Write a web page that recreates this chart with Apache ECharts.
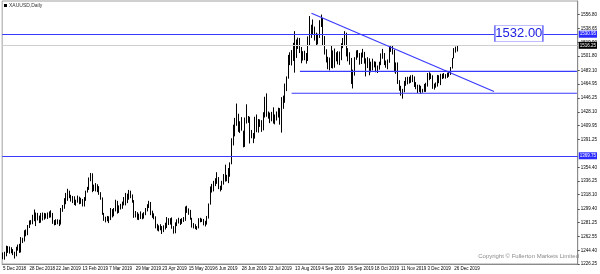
<!DOCTYPE html>
<html>
<head>
<meta charset="utf-8">
<script src="https://cdn.jsdelivr.net/npm/echarts@6/dist/echarts.min.js"></script>
<style>html,body{margin:0;padding:0;background:#fff}#c{width:600px;height:274px}</style>
</head>
<body>
<div id="c"></div>
<script>
// Date labels shown on the time axis (every 16th daily bar)
const tickLabels = ['5 Dec 2018','28 Dec 2018','22 Jan 2019','13 Feb 2019','7 Mar 2019','29 Mar 2019','23 Apr 2019','15 May 2019','6 Jun 2019','28 Jun 2019','22 Jul 2019','13 Aug 2019','4 Sep 2019','26 Sep 2019','18 Oct 2019','11 Nov 2019','3 Dec 2019','26 Dec 2019'];
// Price scale labels
const priceTicks = [1556.80,1538.65,1519.90,1501.80,1483.10,1464.95,1446.25,1428.10,1409.95,1391.25,1354.40,1336.25,1318.10,1299.40,1281.25,1262.55,1244.40,1226.25];
// Daily XAUUSD candles: [open, close, low, high]
const candles = [
[1237.0,1237.5,1232.5,1241.5],[1237.5,1238.0,1232.0,1242.5],[1238.0,1248.0,1236.5,1250.5],[1248.0,1244.0,1241.0,1250.0],[1244.0,1244.5,1240.0,1249.5],
[1244.5,1243.5,1240.5,1248.5],[1243.5,1241.0,1238.0,1246.0],[1241.0,1238.5,1233.5,1242.5],[1238.5,1246.0,1236.5,1249.0],[1246.0,1249.0,1244.0,1252.0],
[1249.0,1243.5,1241.0,1253.0],[1243.5,1258.5,1241.5,1262.0],[1258.5,1257.0,1254.0,1261.0],[1257.0,1269.0,1256.0,1271.0],[1269.0,1267.0,1263.0,1272.0],
[1267.0,1276.0,1264.5,1278.0],[1276.0,1280.5,1274.0,1284.0],[1280.5,1282.0,1278.5,1284.5],[1282.0,1284.5,1279.0,1291.5],[1284.5,1294.0,1283.0,1298.5],
[1294.0,1285.0,1276.5,1294.5],[1285.0,1289.5,1284.0,1294.0],[1289.5,1284.5,1280.5,1290.5],[1284.5,1292.5,1281.0,1294.0],[1292.5,1287.5,1284.0,1294.5],
[1287.5,1290.0,1285.0,1294.0],[1290.0,1291.5,1286.5,1293.5],[1291.5,1288.5,1286.0,1294.5],[1288.5,1294.0,1287.5,1296.0],[1294.0,1292.5,1288.0,1297.5],
[1292.5,1282.0,1279.5,1294.0],[1282.0,1280.0,1277.5,1284.5],[1280.0,1283.5,1278.0,1285.5],[1283.5,1282.0,1279.0,1285.5],[1282.0,1280.0,1276.5,1285.0],
[1280.0,1298.0,1278.5,1300.5],[1298.0,1302.5,1295.5,1304.5],[1302.5,1312.0,1299.5,1313.5],[1312.0,1319.0,1305.5,1320.5],[1319.0,1321.5,1310.0,1326.0],
[1321.5,1317.0,1313.5,1323.5],[1317.0,1311.5,1309.0,1318.0],[1311.5,1314.5,1307.0,1316.5],[1314.5,1306.5,1304.5,1316.0],[1306.5,1309.5,1303.5,1311.5],
[1309.5,1315.0,1307.5,1317.0],[1315.0,1308.0,1305.5,1315.5],[1308.0,1311.5,1306.0,1314.0],[1311.5,1306.5,1302.5,1312.5],[1306.5,1314.0,1302.5,1315.0],
[1314.0,1322.0,1310.0,1323.5],[1322.0,1327.5,1321.0,1328.5],[1327.5,1340.0,1324.5,1341.0],[1340.0,1345.0,1336.0,1347.0],[1345.0,1325.5,1321.5,1346.5],
[1325.5,1328.5,1323.0,1331.5],[1328.5,1327.5,1322.5,1333.5],[1327.5,1329.0,1321.5,1332.0],[1329.0,1320.5,1318.0,1329.5],[1320.5,1313.0,1311.5,1321.5],
[1313.0,1293.0,1291.5,1314.5],[1293.0,1286.5,1283.5,1294.0],[1286.5,1287.5,1281.5,1289.0],[1287.5,1286.0,1283.0,1290.0],[1286.0,1285.5,1280.5,1289.5],
[1285.5,1298.5,1284.5,1300.5],[1298.5,1291.0,1288.0,1299.0],[1291.0,1298.5,1289.5,1300.5],[1298.5,1309.0,1296.0,1311.5],[1309.0,1295.0,1293.0,1310.0],
[1295.0,1302.5,1294.0,1304.0],[1302.5,1301.5,1298.5,1306.0],[1301.5,1305.5,1299.5,1309.0],[1305.5,1313.0,1304.0,1315.0],[1313.0,1310.5,1304.0,1320.5],
[1310.5,1313.0,1307.0,1319.5],[1313.0,1322.0,1311.5,1324.5],[1322.0,1315.5,1313.5,1323.5],[1315.5,1310.0,1307.5,1318.5],[1310.0,1291.0,1287.5,1311.0],
[1291.0,1292.5,1288.0,1296.5],[1292.5,1286.5,1285.0,1295.0],[1286.5,1291.5,1284.5,1293.0],[1291.5,1291.0,1286.0,1296.0],[1291.0,1290.0,1285.5,1293.5],
[1290.0,1292.0,1286.5,1295.0],[1292.0,1298.5,1291.0,1300.5],[1298.5,1303.5,1296.0,1305.5],[1303.5,1307.5,1300.5,1310.0],[1307.5,1292.5,1291.0,1308.5],
[1292.5,1291.0,1287.5,1297.0],[1291.0,1288.5,1285.5,1293.5],[1288.5,1275.5,1273.5,1289.5],[1275.5,1273.5,1270.5,1279.5],[1273.5,1275.5,1269.5,1277.5],
[1275.5,1273.5,1271.0,1279.0],[1273.5,1269.5,1266.0,1276.5],[1269.5,1275.5,1268.5,1277.5],[1275.5,1276.5,1272.0,1281.0],[1276.5,1286.0,1274.0,1288.5],
[1286.0,1279.5,1278.0,1287.0],[1279.5,1283.5,1278.5,1287.0],[1283.5,1274.5,1273.0,1288.0],[1274.5,1270.5,1266.5,1276.5],[1270.5,1279.5,1267.0,1281.5],
[1279.5,1282.0,1276.5,1285.5],[1282.0,1284.5,1280.0,1287.5],[1284.5,1281.0,1278.0,1286.0],[1281.0,1284.5,1279.5,1287.0],[1284.5,1285.5,1282.0,1288.5],
[1285.5,1301.0,1283.5,1302.5],[1301.0,1296.0,1294.0,1303.5],[1296.0,1297.0,1291.5,1300.0],[1297.0,1286.5,1285.0,1298.0],[1286.5,1277.5,1274.5,1287.5],
[1277.5,1277.0,1273.5,1280.5],[1277.0,1273.5,1272.5,1279.0],[1273.5,1274.5,1271.5,1276.5],[1274.5,1284.5,1273.5,1287.0],[1284.5,1284.5,1281.5,1287.5],
[1284.5,1284.0,1282.0,1286.5],[1284.0,1279.0,1277.5,1286.0],[1279.0,1280.5,1276.0,1283.5],[1280.5,1288.5,1278.5,1290.0],[1288.5,1305.5,1286.5,1306.5],
[1305.5,1327.5,1305.0,1329.0],[1327.5,1325.5,1321.0,1332.5],[1325.5,1334.0,1322.5,1336.5],[1334.0,1337.0,1329.5,1340.0],[1337.0,1341.0,1332.5,1348.0],
[1341.0,1327.5,1325.5,1341.5],[1327.5,1327.5,1322.5,1330.0],[1327.5,1334.0,1324.5,1336.5],[1334.0,1342.5,1331.5,1345.5],[1342.5,1341.0,1335.5,1358.0],
[1341.0,1340.0,1336.0,1344.5],[1340.0,1346.5,1333.5,1353.5],[1346.5,1360.5,1342.0,1361.0],[1360.5,1388.0,1358.5,1393.0],[1388.0,1400.0,1383.5,1411.0],
[1400.0,1418.5,1395.5,1420.0],[1418.5,1423.0,1409.5,1439.0],[1423.0,1408.0,1401.5,1425.5],[1408.0,1411.5,1400.0,1415.5],[1411.5,1409.5,1403.0,1421.0],
[1399.0,1384.5,1381.0,1403.0],[1384.5,1419.5,1381.5,1420.5],[1419.5,1418.5,1412.5,1438.0],[1418.5,1420.5,1413.5,1422.5],[1420.5,1399.5,1386.0,1421.5],
[1399.5,1396.5,1393.0,1404.0],[1396.5,1397.5,1386.5,1400.0],[1397.5,1420.0,1392.5,1421.5],[1420.0,1403.5,1401.0,1424.5],[1403.5,1416.0,1400.5,1418.5],
[1416.0,1414.0,1408.0,1418.0],[1414.0,1406.0,1401.5,1417.0],[1406.0,1426.5,1403.5,1427.5],[1426.5,1446.0,1420.5,1448.0],[1446.0,1425.5,1421.5,1452.5],
[1425.5,1425.0,1419.0,1428.5],[1425.0,1418.0,1413.0,1427.0],[1418.0,1425.0,1415.5,1428.0],[1425.0,1414.5,1412.5,1434.0],[1414.5,1418.5,1411.5,1424.5],
[1418.5,1426.0,1416.5,1428.5],[1426.0,1430.5,1420.5,1433.5],[1430.5,1413.5,1411.0,1433.0],[1413.5,1445.0,1400.5,1447.5],[1445.0,1440.5,1432.0,1449.5],
[1440.5,1464.0,1440.0,1465.5],[1464.0,1474.5,1455.5,1475.0],[1474.5,1501.5,1472.0,1503.5],[1501.5,1500.0,1490.0,1507.0],[1500.0,1497.0,1489.5,1510.0],
[1497.0,1512.0,1495.5,1519.5],[1512.0,1502.0,1480.0,1535.0],[1502.0,1516.5,1499.5,1524.0],[1516.5,1523.5,1511.5,1526.5],[1523.5,1513.5,1506.0,1526.0],
[1513.5,1496.5,1492.5,1514.0],[1496.5,1506.5,1496.0,1508.5],[1506.5,1502.5,1496.5,1509.0],[1502.5,1498.0,1492.0,1506.0],[1498.0,1527.0,1495.5,1528.0],
[1527.0,1526.5,1516.0,1555.0],[1526.5,1542.5,1526.0,1543.5],[1542.5,1538.5,1530.5,1550.5],[1538.5,1527.0,1522.5,1541.0],[1527.0,1520.0,1516.5,1533.0],
[1520.0,1529.5,1517.5,1531.5],[1529.5,1547.0,1526.0,1549.5],[1547.0,1551.0,1540.5,1557.0],[1551.0,1519.5,1515.5,1552.5],[1519.5,1507.0,1504.0,1528.5],
[1507.0,1498.5,1493.5,1511.0],[1498.5,1486.0,1484.5,1501.0],[1486.0,1497.5,1483.0,1500.0],[1497.5,1509.0,1486.0,1516.5],[1509.0,1488.5,1485.5,1509.5],
[1488.5,1499.0,1486.5,1512.0],[1499.0,1502.5,1495.0,1507.0],[1502.5,1494.0,1491.0,1508.5],[1494.0,1499.0,1490.0,1508.0],[1499.0,1517.0,1496.5,1519.0],
[1517.0,1522.5,1512.5,1526.0],[1522.5,1532.0,1516.5,1535.0],[1532.0,1504.5,1501.5,1533.0],[1504.5,1505.5,1495.0,1512.5],[1505.5,1498.0,1490.5,1507.0],
[1498.0,1472.5,1465.0,1499.5],[1472.5,1479.0,1459.0,1484.0],[1479.0,1498.5,1476.0,1500.5],[1498.5,1506.5,1497.0,1509.5],[1506.5,1504.5,1500.0,1510.0],
[1504.5,1493.5,1490.5,1506.0],[1493.5,1505.0,1491.5,1506.5],[1505.0,1505.5,1500.0,1511.5],[1505.5,1495.0,1492.0,1507.5],[1495.0,1489.0,1475.0,1499.0],
[1489.0,1498.0,1486.0,1500.5],[1498.0,1481.5,1476.5,1499.0],[1481.5,1490.0,1480.5,1494.5],[1490.0,1492.5,1483.0,1498.5],[1492.5,1490.0,1487.0,1495.0],
[1490.0,1484.0,1480.5,1494.5],[1484.0,1487.0,1479.5,1489.5],[1487.0,1492.0,1484.0,1494.5],[1492.0,1504.0,1490.0,1505.5],[1504.0,1505.0,1498.5,1511.5],
[1505.0,1492.5,1490.0,1506.0],[1492.5,1487.5,1486.5,1496.0],[1487.5,1495.5,1484.5,1497.5],[1495.5,1513.0,1493.0,1515.0],[1513.0,1514.5,1507.5,1516.5],
[1514.5,1509.5,1504.0,1515.5],[1509.5,1484.0,1480.5,1510.5],[1484.0,1489.5,1478.5,1493.5],[1489.5,1467.5,1465.0,1493.5],[1467.5,1459.0,1456.0,1470.0],
[1459.0,1456.5,1449.5,1462.5],[1456.5,1456.0,1445.5,1458.5],[1456.0,1463.5,1454.0,1469.0],[1463.5,1472.5,1462.5,1474.0],[1472.5,1468.0,1464.5,1474.5],
[1468.0,1472.0,1465.5,1474.5],[1472.0,1471.5,1466.5,1476.5],[1471.5,1473.5,1467.5,1477.0],[1473.5,1464.5,1461.0,1475.0],[1464.5,1462.0,1458.0,1467.5],
[1462.0,1456.5,1453.0,1464.0],[1456.5,1462.0,1454.5,1464.0],[1462.0,1455.0,1452.0,1462.5],[1455.0,1456.0,1453.5,1458.5],[1456.0,1463.5,1454.5,1465.0],
[1463.5,1463.0,1454.5,1466.5],[1463.0,1478.0,1461.5,1479.5],[1478.0,1474.5,1470.0,1480.5],[1474.5,1474.0,1471.5,1479.0],[1474.0,1460.0,1458.5,1476.5],
[1460.0,1462.5,1457.5,1465.5],[1462.5,1465.0,1460.0,1467.0],[1465.0,1475.5,1461.5,1477.0],[1475.5,1470.5,1466.0,1476.5],[1470.5,1476.0,1463.5,1478.5],
[1476.0,1476.0,1471.5,1478.5],[1476.0,1475.5,1472.5,1479.5],[1475.5,1475.0,1472.0,1478.0],[1475.0,1478.5,1473.0,1480.0],[1478.5,1478.5,1474.5,1481.0],
[1478.5,1486.5,1477.0,1487.5],[1486.5,1499.0,1485.5,1499.5],[1499.0,1511.0,1499.0,1512.5],[1511.0,1510.5,1506.5,1514.5],[1510.5,1516.25,1508.0,1516.5]
];
// Annotation levels
const fullLevels = [1530.95, 1369.75];
const lastPrice = 1516.25;
const supportLines = [[179, 1481.6], [174, 1452.7]]; // [start bar, price]
const trendStart = [186, 1558.8];
const trendEnd = [296, 1454.9];
const noteBar = 311, noteValue = 1532.00;
const totalSlots = 347;

const cats = [];
for (let i = 0; i < totalSlots; i++) cats.push(String(i));
const showIdx = (i) => i % 16 === 0 && (i / 16) < tickLabels.length;

const chart = echarts.init(document.getElementById('c'), null, {renderer: 'canvas'});
const BLUE = '#3a3aff';
const blue = () => ({color: BLUE, width: 1.2, type: 'solid', opacity: 1});
const markData = [];
fullLevels.forEach(v => markData.push({yAxis: v, lineStyle: blue(),
  label: {show: true, position: 'end', distance: 1, formatter: v.toFixed(2), backgroundColor: '#2a2aff', color: '#fff', fontSize: 4.5, fontFamily: 'Liberation Sans', padding: [1, 1]}}));
markData.push({yAxis: lastPrice, lineStyle: {color: '#cfcfcf', width: 1, type: 'solid'},
  label: {show: true, position: 'end', distance: 1, formatter: lastPrice.toFixed(2), backgroundColor: '#000', color: '#fff', fontSize: 4.5, fontFamily: 'Liberation Sans', padding: [1, 1]}});
markData.push([
  {coord: trendStart, lineStyle: blue(), label: {show: false}},
  {coord: trendEnd, lineStyle: blue()}
]);

const supportSeries = supportLines.map(s => ({
  type: 'line', data: [[s[0], s[1]], [totalSlots - 1, s[1]]],
  symbol: 'none', silent: true, z: 3,
  lineStyle: {color: BLUE, width: 1.2, type: 'solid'},
  itemStyle: {color: BLUE}
}));

chart.setOption({
  animation: false,
  backgroundColor: '#fff',
  grid: {left: 2, right: 18, top: 1, bottom: 10, show: true, borderColor: '#a0a0a0', borderWidth: 1},
  xAxis: {
    type: 'category', data: cats, boundaryGap: true,
    axisLine: {lineStyle: {color: '#8a8a8a'}},
    axisTick: {interval: (i) => showIdx(i), alignWithLabel: true, length: 2, lineStyle: {color: '#555'}},
    axisLabel: {interval: (i) => showIdx(i), showMinLabel: true, formatter: (v, i) => tickLabels[i / 16] || '', align: 'left',
      fontSize: 4.5, color: '#000', margin: 2, fontFamily: 'Liberation Sans'},
    splitLine: {show: false}
  },
  yAxis: {
    type: 'value', position: 'right', min: 1226.25, max: 1575, scale: true,
    axisLine: {show: true, lineStyle: {color: '#8a8a8a'}},
    axisTick: {show: true, customValues: priceTicks, length: 2, lineStyle: {color: '#555'}},
    axisLabel: {customValues: priceTicks, formatter: (v) => v.toFixed(2), fontSize: 4.5, color: '#000', margin: 3, fontFamily: 'Liberation Sans'},
    splitLine: {show: false}
  },
  graphic: [
    {type: 'rect', left: 4, top: 4, shape: {width: 3, height: 3}, style: {fill: '#000'}},
    {type: 'text', left: 9, top: 3, style: {text: 'XAUUSD,Daily', fontSize: 5, fill: '#333', fontFamily: 'Liberation Sans'}},
    {type: 'text', right: 21, top: 253, style: {text: 'Copyright \u00a9 Fullerton Markets Limited', fontSize: 6, fill: '#8a8a8a', fontFamily: 'Liberation Sans'}}
  ],
  series: [{
    type: 'candlestick',
    data: candles,
    barWidth: 1,
    itemStyle: {color: '#ffffff', color0: '#000000', borderColor: '#000000', borderColor0: '#000000', borderWidth: 1},
    markLine: {symbol: 'none', silent: true, lineStyle: blue(), data: markData, z: 3},
    markPoint: {
      silent: true,
      data: [{coord: [noteBar, noteValue], symbol: 'rect', symbolSize: [48, 16],
        itemStyle: {color: '#fff', borderColor: '#7a7aff', borderWidth: 1},
        label: {show: true, position: 'inside', formatter: noteValue.toFixed(2), color: '#2020e0', fontSize: 13, fontFamily: 'Liberation Sans'}}]
    }
  }].concat(supportSeries)
});
</script>
</body>
</html>
